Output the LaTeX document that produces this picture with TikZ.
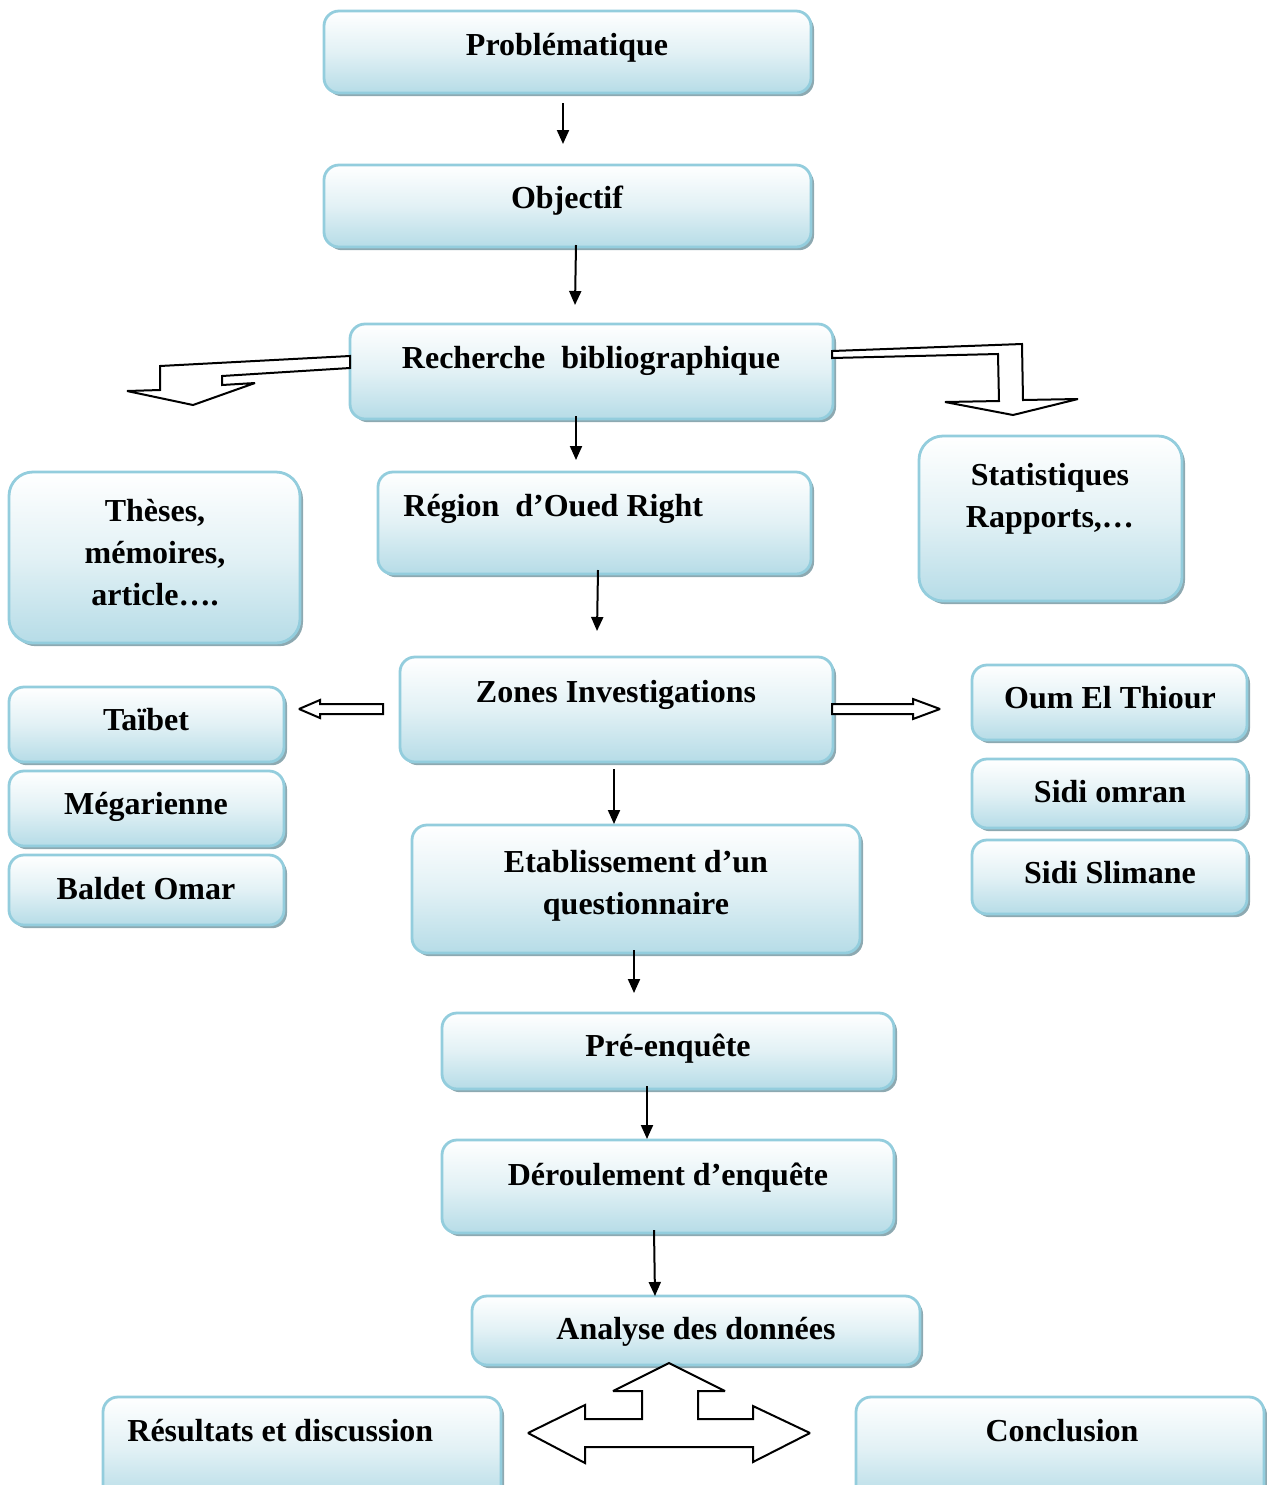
\documentclass[tikz,border=0pt]{standalone}
\usepackage{fontspec}
\setmainfont{Liberation Serif}
\usetikzlibrary{shadows,arrows.meta}
\definecolor{boxedge}{HTML}{93CDDD}
\definecolor{boxbot}{HTML}{B6DCE7}
\definecolor{boxmid}{HTML}{E2F1F5}
\definecolor{shadowc}{HTML}{8DA9B1}
\tikzset{
  bx/.style={draw=boxedge, line width=1.4pt, rounded corners=7.5pt, inner sep=0pt,
    top color=white, bottom color=boxbot, middle color=boxmid,
    drop shadow={shadow xshift=1.5pt, shadow yshift=-1.6pt, fill=shadowc, opacity=1}},
  bigr/.style={rounded corners=12pt},
  lbl/.style={font=\bfseries\fontsize{16}{21}\selectfont, inner sep=0pt, align=center},
  arr/.style={line width=1pt, -{Triangle[length=7pt,width=6pt]}},
  blk/.style={draw=black, line width=1pt, fill=white, line join=miter, miter limit=2}
}
\begin{document}
\begin{tikzpicture}[x=0.5pt,y=-0.5pt]
\useasboundingbox (0,0) rectangle (1267,1485);
\clip (0,0) rectangle (1267,1485);
% boxes
\node[bx, minimum width=243.5pt, minimum height=41pt] (prob) at (567.5,52) {};
\node[bx, minimum width=243.5pt, minimum height=41pt] (obj) at (567.5,206) {};
\node[bx, minimum width=241.5pt, minimum height=47.5pt] (rech) at (591.5,371.5) {};
\node[bx, bigr, minimum width=145.5pt, minimum height=85.5pt] (these) at (154.5,557.5) {};
\node[bx, minimum width=216.5pt, minimum height=51pt] (region) at (594.5,523) {};
\node[bx, bigr, minimum width=131.5pt, minimum height=82.5pt] (stat) at (1050.5,518.5) {};
\node[bx, minimum width=216.5pt, minimum height=52.5pt] (zones) at (616.5,709.5) {};
\node[bx, minimum width=137.5pt, minimum height=37.5pt] (taibet) at (146.5,724.5) {};
\node[bx, minimum width=137.5pt, minimum height=37.5pt] (mega) at (146.5,808.5) {};
\node[bx, minimum width=137.5pt, minimum height=35pt] (baldet) at (146.5,890) {};
\node[bx, minimum width=137.5pt, minimum height=37.5pt] (oum) at (1109.5,702.5) {};
\node[bx, minimum width=137.5pt, minimum height=34.5pt] (omran) at (1109.5,793.5) {};
\node[bx, minimum width=137.5pt, minimum height=37pt] (slimane) at (1109.5,877) {};
\node[bx, minimum width=224pt, minimum height=64pt] (etab) at (636,889) {};
\node[bx, minimum width=226pt, minimum height=38pt] (pre) at (668,1051) {};
\node[bx, minimum width=226pt, minimum height=46.5pt] (deroul) at (668,1186.5) {};
\node[bx, minimum width=224pt, minimum height=34.5pt] (analyse) at (696,1330.5) {};
\node[bx, minimum width=199pt, minimum height=51.5pt] (result) at (302,1448.5) {};
\node[bx, minimum width=204pt, minimum height=51.5pt] (concl) at (1060,1448.5) {};
% labels
\node[lbl, anchor=base] (tprob) at (567,55) {Problématique};
\node[lbl, anchor=base] (tobj) at (567,208) {Objectif};
\node[lbl, anchor=base] (trech) at (591,368) {Recherche\ \ bibliographique};
\node[lbl, anchor=north] (tthese) at (155,499) {Thèses,\\mémoires,\\article….};
\node[lbl, anchor=base west] (tregion) at (403,516) {Région\ \ d’Oued Right};
\node[lbl, anchor=north] (tstat) at (1050,463) {Statistiques\\Rapports,…};
\node[lbl, anchor=base] (tzones) at (616,702) {Zones Investigations};
\node[lbl, anchor=base] (ttaibet) at (146,730) {Taïbet};
\node[lbl, anchor=base] (tmega) at (146,814) {Mégarienne};
\node[lbl, anchor=base] (tbaldet) at (146,899) {Baldet Omar};
\node[lbl, anchor=base] (toum) at (1110,708) {Oum El Thiour};
\node[lbl, anchor=base] (tomran) at (1110,802) {Sidi omran};
\node[lbl, anchor=base] (tslimane) at (1110,883) {Sidi Slimane};
\node[lbl, anchor=north] (tetab) at (636,850) {Etablissement d’un\\questionnaire};
\node[lbl, anchor=base] (tpre) at (668,1056) {Pré-enquête};
\node[lbl, anchor=base] (tderoul) at (668,1185) {Déroulement d’enquête};
\node[lbl, anchor=base] (tanalyse) at (696,1339) {Analyse des données};
\node[lbl, anchor=base west] (tresult) at (127,1441) {Résultats et discussion};
\node[lbl, anchor=base] (tconcl) at (1062,1441) {Conclusion};
% thin arrows
\coordinate (a1s) at (563,103); \coordinate (a1e) at (563,144);
\coordinate (a2s) at (576,245); \coordinate (a2e) at (575,305);
\coordinate (a3s) at (576,416); \coordinate (a3e) at (576,460);
\coordinate (a4s) at (598,570); \coordinate (a4e) at (597,631);
\coordinate (a5s) at (614,769); \coordinate (a5e) at (614,824);
\coordinate (a6s) at (634,950); \coordinate (a6e) at (634,993);
\coordinate (a7s) at (647,1086); \coordinate (a7e) at (647,1139);
\coordinate (a8s) at (654,1230); \coordinate (a8e) at (655,1296);
\draw[arr] (a1s) -- (a1e);
\draw[arr] (a2s) -- (a2e);
\draw[arr] (a3s) -- (a3e);
\draw[arr] (a4s) -- (a4e);
\draw[arr] (a5s) -- (a5e);
\draw[arr] (a6s) -- (a6e);
\draw[arr] (a7s) -- (a7e);
\draw[arr] (a8s) -- (a8e);
% block arrows
\draw[blk] (350,356) -- (160,366) -- (160,390) -- (127,391) -- (193,405) -- (255,383) -- (222,385) -- (222,376) -- (350,368) -- cycle;
\draw[blk] (832,351) -- (1022,344) -- (1023,400) -- (1078,399) -- (1013,415) -- (945,402) -- (999,401) -- (998,354) -- (832,358) -- cycle;
\draw[blk] (299,709) -- (320,700) -- (320,704) -- (383,704) -- (383,714) -- (320,714) -- (320,718) -- cycle;
\draw[blk] (940,709) -- (913,699) -- (913,704) -- (832,704) -- (832,714) -- (913,714) -- (913,719) -- cycle;
\draw[blk] (669,1363) -- (725,1391) -- (698,1391) -- (698,1419) -- (753,1419) -- (753,1406) -- (810,1433) -- (753,1462) -- (753,1447) -- (585,1447) -- (585,1463) -- (528,1433) -- (585,1405) -- (585,1419) -- (642,1419) -- (642,1391) -- (613,1391) -- cycle;
\end{tikzpicture}
\end{document}
